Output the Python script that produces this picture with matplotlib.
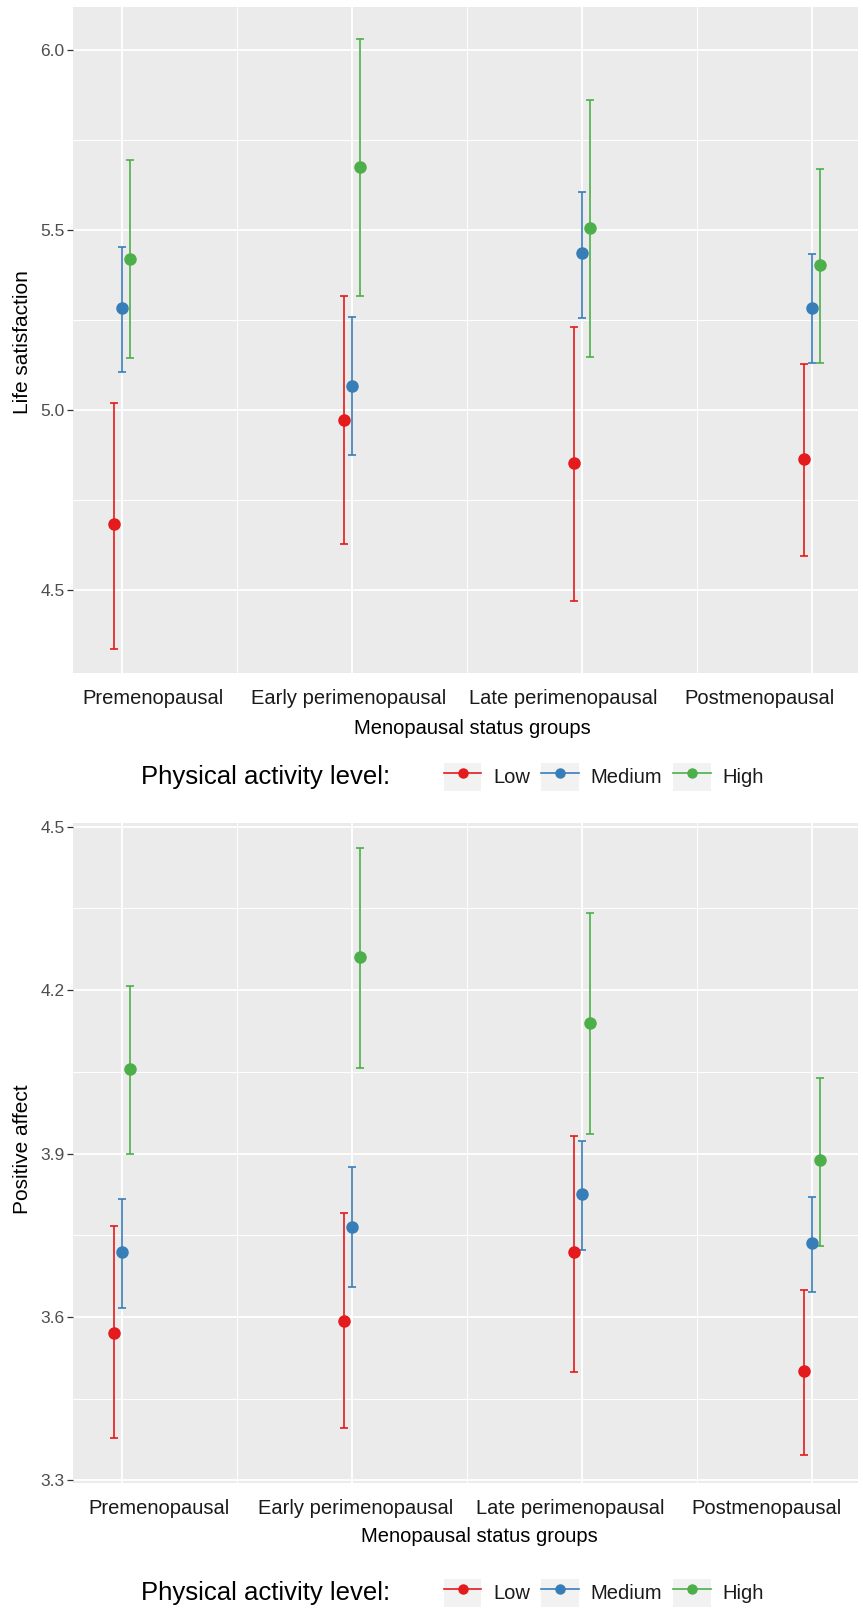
import matplotlib
matplotlib.use("Agg")
import matplotlib.pyplot as plt
from matplotlib.lines import Line2D
from matplotlib.patches import Rectangle
import numpy as np

plt.rcParams["font.family"] = ["Liberation Sans", "DejaVu Sans"]

groups = ["Premenopausal", "Early perimenopausal", "Late perimenopausal", "Postmenopausal"]
levels = ["Low", "Medium", "High"]
level_colors = ["#E41A1C", "#377EB8", "#4DAF4A"]

# life satisfaction (rows: Low, Medium, High)
ls_mean = [[4.683, 4.972, 4.852, 4.864],
           [5.283, 5.067, 5.436, 5.283],
           [5.419, 5.675, 5.505, 5.403]]
ls_low = [[4.336, 4.628, 4.469, 4.594],
          [5.106, 4.875, 5.256, 5.131],
          [5.144, 5.317, 5.147, 5.131]]
ls_high = [[5.019, 5.317, 5.231, 5.128],
           [5.453, 5.258, 5.606, 5.433],
           [5.694, 6.031, 5.860, 5.669]]

# positive affect
pa_mean = [[3.571, 3.593, 3.719, 3.501],
           [3.719, 3.765, 3.826, 3.735],
           [4.055, 4.261, 4.140, 3.888]]
pa_low = [[3.378, 3.396, 3.499, 3.346],
          [3.616, 3.655, 3.723, 3.646],
          [3.899, 4.057, 3.936, 3.730]]
pa_high = [[3.767, 3.791, 3.932, 3.650],
           [3.817, 3.876, 3.923, 3.821],
           [4.208, 4.462, 4.342, 4.039]]

ls_ticks = [4.5, 5.0, 5.5, 6.0]
pa_ticks = [3.3, 3.6, 3.9, 4.2, 4.5]

W, H = 863, 1609
fig = plt.figure(figsize=(W / 100, H / 100), dpi=100)


def px_ax(left, top, right, bottom):
    return fig.add_axes([left / W, 1 - bottom / H, (right - left) / W, (bottom - top) / H])


def panel(ax, means, lows, highs, ticks, ylim):
    x = np.arange(len(groups))
    dodge = 0.0345
    for i, lev in enumerate(levels):
        m = np.array(means[i])
        lo = np.array(lows[i])
        hi = np.array(highs[i])
        ax.errorbar(x + (i - 1) * dodge, m, yerr=[m - lo, hi - m], fmt="o",
                    color=level_colors[i], ms=8, elinewidth=1.2, capsize=2.6,
                    capthick=1.2, zorder=3)
    ax.set_facecolor("#EBEBEB")
    ax.set_xlim(-0.213, 3.2)
    ax.set_ylim(*ylim)
    ax.set_xticks(x)
    ax.set_xticks([0.5, 1.5, 2.5], minor=True)
    step = ticks[1] - ticks[0]
    ax.set_yticks(ticks)
    ax.set_yticks([t + step / 2 for t in ticks[:-1]], minor=True)
    ax.set_yticklabels([f"{t:.1f}" for t in ticks])
    ax.grid(which="major", color="white", lw=1.3)
    ax.grid(which="minor", color="white", lw=0.7)
    ax.set_axisbelow(True)
    for s in ax.spines.values():
        s.set_visible(False)
    ax.tick_params(axis="x", which="both", length=0, labelbottom=False)
    ax.tick_params(axis="y", which="major", length=4, width=0.9, color="#333333",
                   labelsize=12.5, labelcolor="#4D4D4D", pad=2)
    ax.tick_params(axis="y", which="minor", length=0)


def bottom_text(label_y, title_y, legend_y, centers, title_x):
    for g, cx in zip(groups, centers):
        fig.text(cx / W, 1 - label_y / H, g, ha="center", va="center",
                 fontsize=14.5, color="#1A1A1A")
    fig.text(title_x / W, 1 - title_y / H, "Menopausal status groups", ha="center",
             va="center", fontsize=14.5, color="black")
    fig.text(141 / W, 1 - legend_y / H, "Physical activity level:", ha="left",
             va="center", fontsize=18.5, color="black")
    handles = []
    for c in level_colors:
        box = Rectangle((0, 0), 1, 1, facecolor="#F2F2F2", edgecolor="none")
        ln = Line2D([], [], color=c, marker="o", ms=6.5, lw=1.2)
        handles.append((box, ln))
    fig.legend(handles, levels, loc="center left", ncol=3,
               bbox_to_anchor=(444 / W, 1 - legend_y / H), frameon=False,
               fontsize=14.5, handlelength=1.85, handleheight=1.8,
               handletextpad=0.6, columnspacing=0.55, borderpad=0,
               borderaxespad=0, labelcolor="#1A1A1A")


ax1 = px_ax(73, 7, 858, 673)
panel(ax1, ls_mean, ls_low, ls_high, ls_ticks, (4.269, 6.119))
fig.text(22 / W, 1 - 342 / H, "Life satisfaction", rotation=90, ha="center",
         va="center", fontsize=15)
bottom_text(698, 729, 777, [153, 349, 563, 759], 472)

ax2 = px_ax(73, 823, 858, 1483)
panel(ax2, pa_mean, pa_low, pa_high, pa_ticks, (3.295, 4.507))
fig.text(22 / W, 1 - 1149 / H, "Positive affect", rotation=90, ha="center",
         va="center", fontsize=15)
bottom_text(1508, 1537, 1593, [159, 356, 570, 766], 479)

fig.savefig("out.png", dpi=100, facecolor="white")
